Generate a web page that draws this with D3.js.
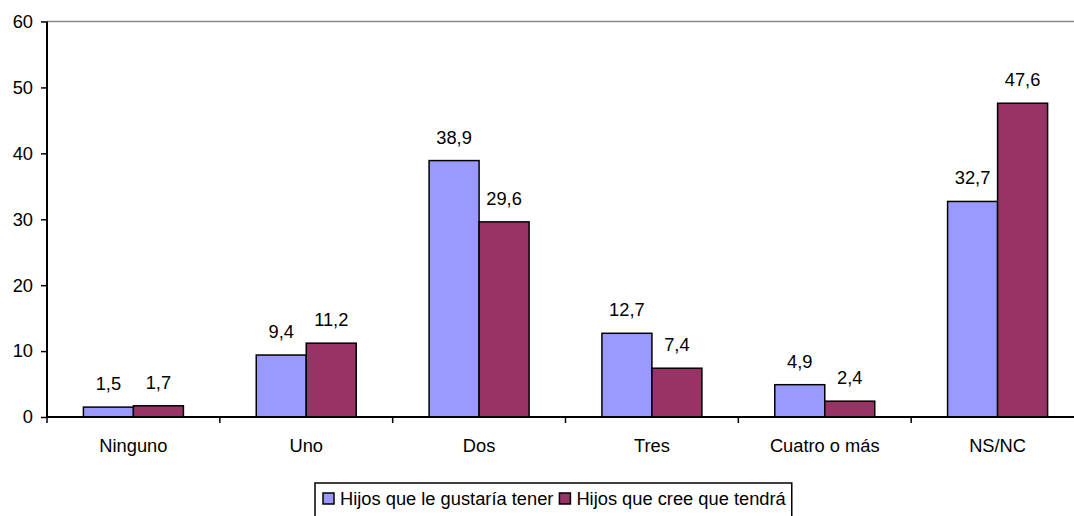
<!DOCTYPE html>
<html><head><meta charset="utf-8">
<script src="https://cdn.jsdelivr.net/npm/d3@7"></script>
<style>body{margin:0;background:#fff}svg{display:block}text{font-family:"Liberation Sans",Arial,sans-serif}</style>
</head><body>
<script>
const categories = ["Ninguno","Uno","Dos","Tres","Cuatro o más","NS/NC"];
const seriesNames = ["Hijos que le gustaría tener","Hijos que cree que tendrá"];
const gustaria = [1.5,9.4,38.9,12.7,4.9,32.7];
const tendra = [1.7,11.2,29.6,7.4,2.4,47.6];
const yTicks = [0,10,20,30,40,50,60];
const colors = ["#9999FF","#993366"];
const fmt = v => String(v.toFixed(1)).replace(".", ",");
const FS = 18.3;

const W=1074,H=516;
const svg=d3.select("body").append("svg").attr("width",W).attr("height",H);
const x0=d3.scaleBand().domain(categories).range([47,1084]);
const y=d3.scaleLinear().domain([0,60]).range([417,21.5]);
const barW=50;
const x1=d3.scaleBand().domain([0,1]).range([-barW, barW]);

// top line
svg.append("line").attr("x1",47).attr("x2",W).attr("y1",y(60)).attr("y2",y(60)).attr("stroke","#888").attr("stroke-width",1.5);

const data=categories.map((c,i)=>({c,vals:[gustaria[i],tendra[i]]}));
const g=svg.append("g");
data.forEach(d=>{
  d.vals.forEach((v,j)=>{
    const cx=x0(d.c)+x0.bandwidth()/2;
    g.append("rect").attr("x",cx+x1(j)).attr("width",barW).attr("y",y(v)).attr("height",y(0)-y(v))
      .attr("fill",colors[j]).attr("stroke","#000").attr("stroke-width",1.5);
    g.append("text").attr("x",cx+x1(j)+barW/2).attr("y",y(v)-17).attr("text-anchor","middle")
      .attr("font-size",FS).text(fmt(v));
  });
});

// y axis
const ya=d3.axisLeft(y).tickValues(yTicks).tickSize(6).tickPadding(8).tickFormat(d3.format("d"));
svg.append("g").attr("transform","translate(47,0)").call(ya)
  .call(s=>{s.select(".domain").attr("stroke","#000").attr("stroke-width",2).attr("d","M0,21.5V417");
    s.selectAll(".tick line").attr("stroke","#000").attr("stroke-width",1.5);
    s.selectAll("text").attr("font-size",FS).attr("fill","#000").attr("font-family","Liberation Sans, Arial, sans-serif");});

// x axis
const xg=svg.append("g");
xg.append("line").attr("x1",47).attr("x2",W).attr("y1",417).attr("y2",417).attr("stroke","#000").attr("stroke-width",2);
categories.forEach((c,i)=>{
  xg.append("line").attr("x1",x0(c)).attr("x2",x0(c)).attr("y1",417).attr("y2",423).attr("stroke","#000").attr("stroke-width",1.5);
  xg.append("text").attr("x",x0(c)+x0.bandwidth()/2).attr("y",452).attr("text-anchor","middle").attr("font-size",FS).text(c);
});

// legend
const lg=svg.append("g");
const lx=315, ly=483;
let cx=lx+8;
seriesNames.forEach((n,j)=>{
  lg.append("rect").attr("x",cx).attr("y",ly+10).attr("width",11).attr("height",11).attr("fill",colors[j]).attr("stroke","#000").attr("stroke-width",1.5);
  const t=lg.append("text").attr("x",cx+17).attr("y",ly+22).attr("font-size",FS).text(n);
  cx+=17+t.node().getComputedTextLength()+6;
});
lg.insert("rect",":first-child").attr("x",lx).attr("y",ly).attr("width",cx-lx).attr("height",40).attr("fill","#fff").attr("stroke","#000").attr("stroke-width",1.5);
</script>
</body></html>
